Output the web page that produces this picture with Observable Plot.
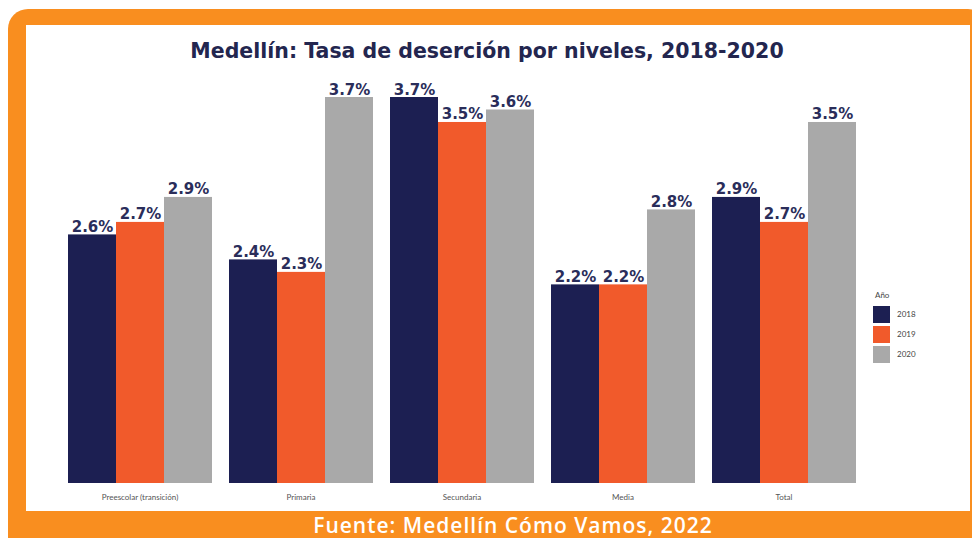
<!DOCTYPE html>
<html><head><meta charset="utf-8">
<script src="https://cdn.jsdelivr.net/npm/d3@7"></script>
<script src="https://cdn.jsdelivr.net/npm/@observablehq/plot@0.6"></script>
<style>
html,body{margin:0;padding:0;background:#fff;width:972px;height:538px;overflow:hidden;position:relative;}
#frame{position:absolute;left:8px;top:9px;width:980px;height:560px;background:#f98e1f;border-radius:20px;}
#inner{position:absolute;left:26px;top:25px;width:944px;height:486px;background:#fff;}
#chart{position:absolute;left:26px;top:25px;}
#title{position:absolute;left:0;width:974px;top:39px;text-align:center;font-family:"DejaVu Sans",sans-serif;font-weight:bold;font-size:20.5px;color:#23264f;}
#legend{position:absolute;left:873px;top:290px;font-family:Lato,sans-serif;font-size:8px;color:#444;}
#legend .row{display:flex;align-items:center;height:20px;}
#legend .sw{width:17px;height:17px;margin-right:7px;}
#footer{position:absolute;left:0;width:1026px;top:513px;line-height:24px;text-align:center;font-family:"Open Sans",sans-serif;font-weight:600;font-size:21px;letter-spacing:1px;color:#fff;}
</style></head>
<body>
<div id="frame"></div>
<div id="inner"></div>
<div id="title">Medellín: Tasa de deserción por niveles, 2018-2020</div>
<div id="chart"></div>
<div id="legend"></div>
<div id="footer">Fuente: Medellín Cómo Vamos, 2022</div>
<script>
const niveles = ["Preescolar (transición)", "Primaria", "Secundaria", "Media", "Total"];
const anios = ["2018", "2019", "2020"];
const v2018 = [2.6, 2.4, 3.7, 2.2, 2.9];
const v2019 = [2.7, 2.3, 3.5, 2.2, 2.7];
const v2020 = [2.9, 3.7, 3.6, 2.8, 3.5];
const colores = ["#1c1f52", "#f15a2b", "#a9a9a9"];

const series = [v2018, v2019, v2020];
const data = [];
niveles.forEach((n, i) => anios.forEach((a, j) => data.push({nivel: n, anio: a, valor: series[j][i]})));

const yBase = 0.61;
const chart = Plot.plot({
  width: 944,
  height: 486,
  marginLeft: 33,
  marginRight: 106,
  marginTop: 72,
  marginBottom: 28,
  style: {fontFamily: "Lato, sans-serif", fontSize: "8px", color: "#555", background: "transparent"},
  fx: {domain: niveles, paddingInner: 0.1, paddingOuter: 0.05, label: null, tickSize: 0, tickPadding: 11},
  x: {domain: anios, padding: 0, axis: null},
  y: {domain: [yBase, 3.7], axis: null},
  color: {domain: anios, range: colores},
  marks: [
    Plot.rectY(data, {fx: "nivel", x: "anio", y1: yBase, y2: "valor", fill: "anio"}),
    Plot.text(data, {fx: "nivel", x: "anio", y: "valor", text: d => d.valor.toFixed(1) + "%", dy: -3, lineAnchor: "bottom", fontSize: 15, fontWeight: "bold", fontFamily: "DejaVu Sans, sans-serif", fill: "#2a2d5a"})
  ]
});
document.getElementById("chart").appendChild(chart);

const lg = document.getElementById("legend");
lg.innerHTML = '<div style="margin-bottom:4px;margin-left:2px">Año</div>' +
  anios.map((a, i) => `<div class="row"><div class="sw" style="background:${colores[i]}"></div><span>${a}</span></div>`).join("");
</script>
</body></html>
